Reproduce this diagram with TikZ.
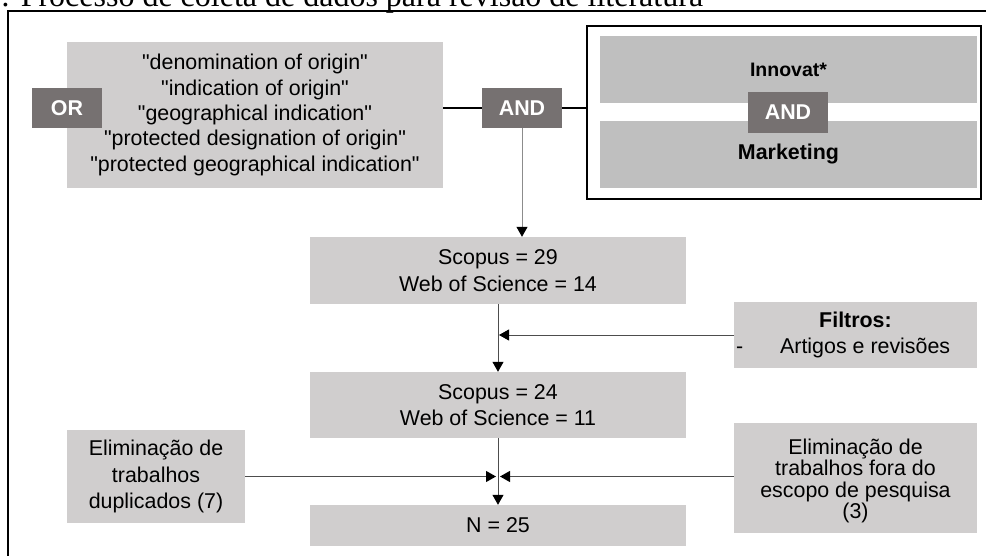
\documentclass[tikz,border=0pt]{standalone}
\usepackage{fontspec}
\setmainfont{Liberation Sans}[Ligatures=TeXOff]
\newfontfamily\ttlfont{Liberation Serif}
\usetikzlibrary{arrows.meta}
\definecolor{boxgray}{HTML}{D0CECE}
\definecolor{midgray}{HTML}{BFBFBF}
\definecolor{opgray}{HTML}{767171}
\definecolor{linegray}{HTML}{4D4D4D}
\definecolor{uppergray}{HTML}{8C8C8C}
\newcommand\fsA{\fontsize{21.4}{25.4}\selectfont}
\newcommand\fsB{\fontsize{21.4}{26.5}\selectfont}
\newcommand\fsC{\fontsize{21.4}{21.5}\selectfont}
\begin{document}
\begin{tikzpicture}[x=1pt,y=-1pt,
  lbox/.style={fill=boxgray, inner sep=0pt, align=center, font=\fsA, text=black},
  mbox/.style={fill=midgray, inner sep=0pt, align=center, font=\bfseries\fsA, text=black},
  opbox/.style={fill=opgray, inner sep=0pt, text=white, font=\bfseries\fsA},
  thick link/.style={draw=black, line width=2pt},
  arr/.style={draw=linegray, line width=1pt, -{Triangle[length=10pt,width=11pt,color=black]}},
  arrup/.style={arr, draw=uppergray}]
\useasboundingbox (0,0) rectangle (986,556);
\clip (0,0) rectangle (986,556);

% title (partly cut off at the top)
\node[anchor=base west, inner sep=0pt, font=\ttlfont\fontsize{32}{38}\selectfont] (title) at (1,7)
  {: Processo de coleta de dados para revisão de literatura};

% outer frame
\draw[line width=1.6pt] (8,620) -- (8,11) -- (1040,11);

% query block
\node[lbox, minimum width=376pt, minimum height=146pt] (q) at (255,115)
  {"denomination of origin"\\ "indication of origin"\\ "geographical indication"\\
   "protected designation of origin"\\ "protected geographical indication"};
\node[opbox, minimum width=70pt, minimum height=40pt] (or) at (67,108) {OR};
\node[opbox, minimum width=80pt, minimum height=40pt] (and1) at (522,108) {AND};

% right framed block
\node[draw=black, line width=1.5pt, fill=white, minimum width=394pt, minimum height=173pt, inner sep=0pt] (rb) at (784,112.5) {};
\node[mbox, font=\bfseries\fontsize{19.5}{23}\selectfont, minimum width=377pt, minimum height=67pt] (inn) at (788.5,69.5) {Innovat*};
\node[mbox, minimum width=377pt, minimum height=67pt] (mkt) at (788.5,154.5) {Marketing};
\node[opbox, minimum width=80pt, minimum height=41pt] (and2) at (788,112.5) {AND};

% thick links
\draw[thick link] (q.east |- and1.west) -- (and1.west);
\draw[thick link] (and1.east) -- (rb.west |- and1.east);

% flow boxes
\node[lbox, font=\fsB, minimum width=376pt, minimum height=67pt] (b1) at (498,270.5)
  {Scopus = 29\\ Web of Science = 14};
\node[lbox, minimum width=243pt, minimum height=66pt] (filt) at (855.5,335)
  {\textbf{Filtros:}\\ \makebox[239pt][l]{-\hspace{37pt}Artigos e revisões}};
\node[lbox, font=\fsB, minimum width=376pt, minimum height=66pt] (b2) at (498,405)
  {Scopus = 24\\ Web of Science = 11};
\node[lbox, font=\fsB, minimum width=178pt, minimum height=93pt] (dup) at (156,476.5)
  {Eliminação de\\ trabalhos\\ duplicados (7)};
\node[lbox, font=\fsC, minimum width=243pt, minimum height=110pt] (fora) at (855.5,478)
  {\rule{0pt}{21pt}Eliminação de\\ trabalhos fora do\\ escopo de pesquisa\\ (3)};
\node[lbox, minimum width=376pt, minimum height=41pt] (nb) at (498,525.5) {N = 25};

% arrows
\draw[arrup] (and1.south) -- (and1.south |- b1.north);
\draw[arr] (b1.south) -- (b2.north);
\draw[arr] (filt.west) -- ([xshift=1pt]filt.west -| b1.south);
\draw[arr] (b2.south) -- (nb.north);
\draw[arr] (dup.east) -- ([xshift=-2pt]dup.east -| b2.south);
\draw[arr] (fora.west |- dup.east) -- ([xshift=2pt]dup.east -| b2.south);
\end{tikzpicture}
\end{document}
